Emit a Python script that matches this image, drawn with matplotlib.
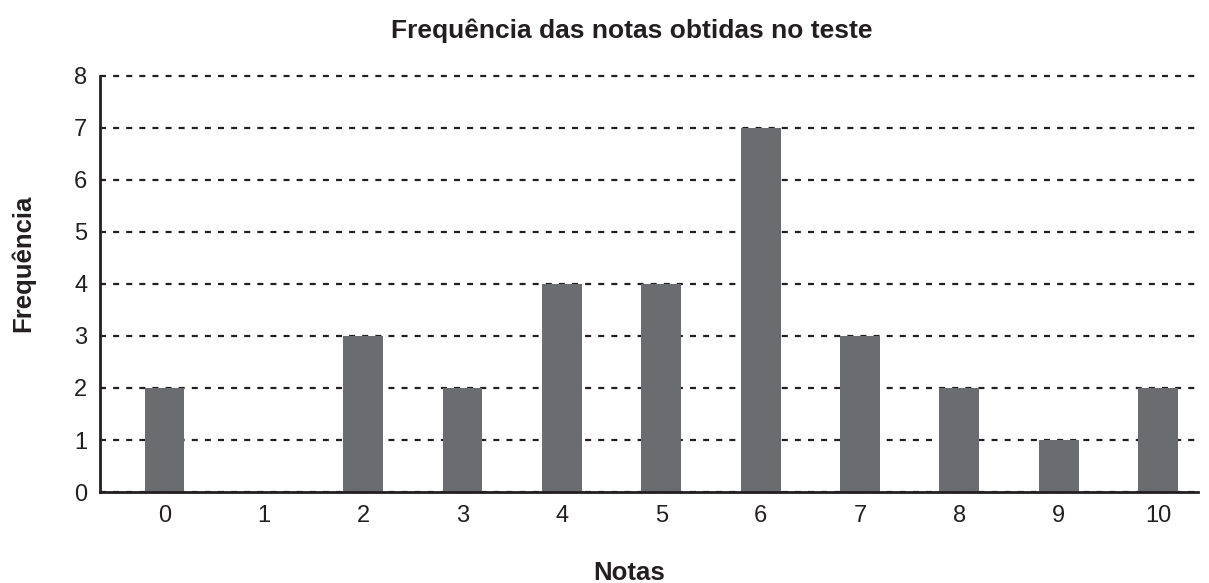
import matplotlib
matplotlib.use("Agg")
import matplotlib.pyplot as plt

notas = [0, 1, 2, 3, 4, 5, 6, 7, 8, 9, 10]
frequencia = [2, 0, 3, 2, 4, 4, 7, 3, 2, 1, 2]
yticks = [0, 1, 2, 3, 4, 5, 6, 7, 8]

plt.rcParams['font.family'] = ['Liberation Sans', 'DejaVu Sans']
ink = '#231f20'

fig = plt.figure(figsize=(12.09, 5.83), dpi=100)
ax = fig.add_axes([0.0827, 0.156, 0.908, 0.714])

ax.bar(notas, frequencia, width=0.4, color='#6b6c70', zorder=3)

ax.set_xlim(-0.65, 10.4)
ax.set_ylim(0, 8)
ax.set_yticks(yticks)
ax.set_xticks(notas)
ax.grid(axis='y', linestyle=(0, (2.7, 3.2)), color=ink, linewidth=1.6, zorder=1)
for gl in ax.get_ygridlines():
    gl.set_clip_on(False)
ax.tick_params(length=0, labelsize=17, colors=ink)
ax.tick_params(axis='x', pad=9)
ax.tick_params(axis='y', pad=9)

for s in ['top', 'right']:
    ax.spines[s].set_visible(False)
for s in ['left', 'bottom']:
    ax.spines[s].set_linewidth(2)
    ax.spines[s].set_color(ink)
    ax.spines[s].set_zorder(4)

# title and labels are a bit off-centre in the original
ax.set_title('Frequência das notas obtidas no teste', fontsize=19, fontweight='bold',
             color=ink, pad=27, x=0.4845)
ax.set_xlabel('Notas', fontsize=18.5, fontweight='bold', color=ink, labelpad=25)
ax.xaxis.label.set_x(0.482)
ax.set_ylabel('Frequência', fontsize=18.5, fontweight='bold', color=ink, labelpad=28)
ax.yaxis.label.set_y(0.55)

fig.savefig('out.png', dpi=100)
